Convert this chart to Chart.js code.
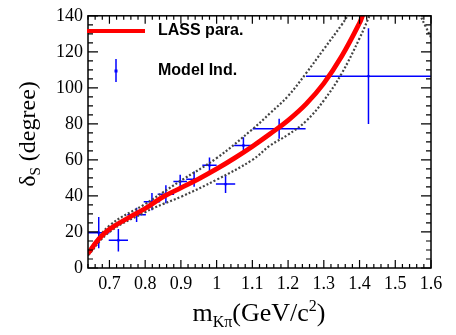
<!DOCTYPE html>
<html>
<head>
<meta charset="utf-8">
<script src="https://cdn.jsdelivr.net/npm/chart.js@4/dist/chart.umd.min.js"></script>
<style>
  html, body { margin: 0; padding: 0; background: #fff; }
  #wrap { width: 456px; height: 335px; }
</style>
</head>
<body>
<div id="wrap"><canvas id="phase"></canvas></div>
<script>
// Model-independent points (m, delta) with errors
const modelX = [0.67, 0.725, 0.776, 0.819, 0.858, 0.898, 0.937, 0.98, 1.025, 1.075, 1.175, 1.425];
const modelY = [19.6, 15.4, 29.5, 36.8, 41, 48, 49.3, 57, 46.6, 68, 77.3, 106.5];
const modelXErr = [0.03, 0.027, 0.026, 0.023, 0.023, 0.019, 0.022, 0.02, 0.027, 0.026, 0.074, 0.175];
const modelYErr = [8.7, 6.2, 4, 4.8, 5, 3.8, 4.2, 4.3, 5, 4.6, 5.5, 26.6];

// LASS parametrisation
const lassX = [0.64, 0.67, 0.70, 0.75, 0.80, 0.85, 0.90, 0.95, 1.00, 1.05, 1.10, 1.15, 1.20, 1.25, 1.30, 1.35, 1.40, 1.41];
const lassY = [8, 16, 21.5, 27.5, 33, 39.5, 44.5, 49.5, 55, 61, 67.5, 74.5, 82, 91, 102.5, 117.5, 136, 141];

// error band (dotted)
const upperX = [0.64, 0.70, 0.80, 0.85, 0.90, 1.00, 1.10, 1.15, 1.20, 1.25, 1.30, 1.35, 1.37];
const upperY = [9, 23.5, 35.5, 42, 48.5, 61, 77, 86, 95.5, 108, 121.5, 135, 141];
const lowerX = [0.64, 0.70, 0.80, 0.85, 0.90, 1.00, 1.10, 1.15, 1.20, 1.25, 1.30, 1.35, 1.40, 1.43];
const lowerY = [7, 20, 31, 35.5, 39.5, 49, 60, 68, 74, 81.5, 93, 108, 127.5, 141];
const cornerX = [1.568, 1.585, 1.6];
const cornerY = [141, 134, 128];

const xTicks = [0.7, 0.8, 0.9, 1.0, 1.1, 1.2, 1.3, 1.4, 1.5, 1.6];
const yTicks = [0, 20, 40, 60, 80, 100, 120, 140];

const pts = (xs, ys) => xs.map((x, i) => ({ x: x, y: ys[i] }));

const serif = "'Liberation Serif', 'Times New Roman', serif";
const sans = "'Liberation Sans', Arial, sans-serif";

const errorBars = {
  id: 'errorBars',
  beforeDatasetsDraw(chart) {
    const { ctx, chartArea, scales: { x, y } } = chart;
    ctx.save();
    ctx.beginPath();
    ctx.rect(chartArea.left, chartArea.top, chartArea.right - chartArea.left, chartArea.bottom - chartArea.top);
    ctx.clip();
    ctx.strokeStyle = '#0000ff';
    ctx.lineWidth = 1.5;
    modelX.forEach((mx, i) => {
      const px = x.getPixelForValue(mx), py = y.getPixelForValue(modelY[i]);
      ctx.beginPath();
      ctx.moveTo(x.getPixelForValue(mx - modelXErr[i]), py);
      ctx.lineTo(x.getPixelForValue(mx + modelXErr[i]), py);
      ctx.moveTo(px, y.getPixelForValue(modelY[i] - modelYErr[i]));
      ctx.lineTo(px, y.getPixelForValue(modelY[i] + modelYErr[i]));
      ctx.stroke();
    });
    ctx.restore();
  }
};

const frame = {
  id: 'frame',
  afterDraw(chart) {
    const { ctx, chartArea: a, scales: { x, y } } = chart;
    ctx.save();
    ctx.strokeStyle = '#000';
    ctx.lineWidth = 1.5;
    ctx.strokeRect(a.left, a.top, a.right - a.left, a.bottom - a.top);
    ctx.lineWidth = 1.2;
    ctx.beginPath();
    // x ticks, every 0.02, major every 0.1
    for (let k = 32; k <= 80; k++) {
      const px = x.getPixelForValue(k * 0.02);
      const len = k % 5 === 0 ? 8 : 4;
      ctx.moveTo(px, a.bottom); ctx.lineTo(px, a.bottom - len);
      ctx.moveTo(px, a.top); ctx.lineTo(px, a.top + len);
    }
    // y ticks, every 5, major every 20
    for (let k = 0; k <= 28; k++) {
      const py = y.getPixelForValue(k * 5);
      const len = k % 4 === 0 ? 10 : 5;
      ctx.moveTo(a.left, py); ctx.lineTo(a.left + len, py);
      ctx.moveTo(a.right, py); ctx.lineTo(a.right - len, py);
    }
    ctx.stroke();

    // legend
    ctx.strokeStyle = '#ff0000';
    ctx.lineWidth = 4;
    ctx.beginPath();
    ctx.moveTo(a.left - 1, 31); ctx.lineTo(145, 31);
    ctx.stroke();
    ctx.strokeStyle = '#0000ff';
    ctx.lineWidth = 1.5;
    ctx.beginPath();
    ctx.moveTo(116, 59); ctx.lineTo(116, 82);
    ctx.stroke();
    ctx.fillStyle = '#0000ff';
    ctx.fillRect(114.5, 69.5, 3, 3);
    ctx.fillStyle = '#000';
    ctx.font = 'bold 16px ' + sans;
    ctx.textBaseline = 'middle';
    ctx.textAlign = 'left';
    ctx.fillText('LASS para.', 158, 31);
    ctx.fillText('Model Ind.', 158, 71);

    // x title: m_{K pi}(GeV/c^2)
    const big = '26px ' + serif, small = '16px ' + serif;
    ctx.textBaseline = 'alphabetic';
    const parts = [['m', big, 0], ['K\u03c0', small, 6], ['(GeV/c', big, 0], ['2', small, -10], [')', big, 0]];
    let w = 0;
    parts.forEach(p => { ctx.font = p[1]; w += ctx.measureText(p[0]).width; });
    let cx = 259 - w / 2;
    parts.forEach(p => {
      ctx.font = p[1];
      ctx.fillText(p[0], cx, 321 + p[2]);
      cx += ctx.measureText(p[0]).width;
    });

    // y title: delta_S (degree)
    ctx.save();
    ctx.translate(35, 134);
    ctx.rotate(-Math.PI / 2);
    const yparts = [['\u03b4', '24px ' + serif, 0], ['S', '15px ' + serif, 5], [' (degree)', '24px ' + serif, 0]];
    w = 0;
    yparts.forEach(p => { ctx.font = p[1]; w += ctx.measureText(p[0]).width; });
    cx = -w / 2;
    yparts.forEach(p => {
      ctx.font = p[1];
      ctx.fillText(p[0], cx, p[2]);
      cx += ctx.measureText(p[0]).width;
    });
    ctx.restore();
    ctx.restore();
  }
};

const dotted = { borderColor: '#444444', borderWidth: 2.2, borderDash: [2, 2], pointRadius: 0, showLine: true, tension: 0.4, fill: false };

new Chart(document.getElementById('phase'), {
  type: 'scatter',
  data: {
    datasets: [
      { label: 'LASS para.', data: pts(lassX, lassY), showLine: true, borderColor: '#ff0000', borderWidth: 4.8, pointRadius: 0, tension: 0.4 },
      Object.assign({ label: 'upper', data: pts(upperX, upperY) }, dotted),
      Object.assign({ label: 'lower', data: pts(lowerX, lowerY) }, dotted),
      Object.assign({ label: 'corner', data: pts(cornerX, cornerY) }, dotted),
      { label: 'Model Ind.', data: pts(modelX, modelY), pointStyle: 'rect', pointRadius: 1.6, backgroundColor: '#0000ff', borderColor: '#0000ff', borderWidth: 0 }
    ]
  },
  options: {
    responsive: true,
    maintainAspectRatio: false,
    animation: false,
    events: [],
    layout: { padding: { top: 5, right: 25, left: 0, bottom: 0 } },
    plugins: { legend: { display: false }, tooltip: { enabled: false } },
    scales: {
      x: {
        type: 'linear', min: 0.64, max: 1.6,
        afterFit: s => { s.height = 67; },
        afterBuildTicks: s => { s.ticks = xTicks.map(v => ({ value: v })); },
        grid: { display: false, drawTicks: false },
        border: { display: false },
        ticks: {
          padding: 5, autoSkip: false, maxRotation: 0, color: '#000',
          font: { family: serif, size: 18 },
          callback: v => String(Number(v.toFixed(1)))
        }
      },
      y: {
        type: 'linear', min: 0, max: 140,
        afterFit: s => { s.width = 88; },
        afterBuildTicks: s => { s.ticks = yTicks.map(v => ({ value: v })); },
        grid: { display: false, drawTicks: false },
        border: { display: false },
        ticks: {
          padding: 5, autoSkip: false, color: '#000',
          font: { family: serif, size: 18 }
        }
      }
    }
  },
  plugins: [errorBars, frame]
});
</script>
</body>
</html>
